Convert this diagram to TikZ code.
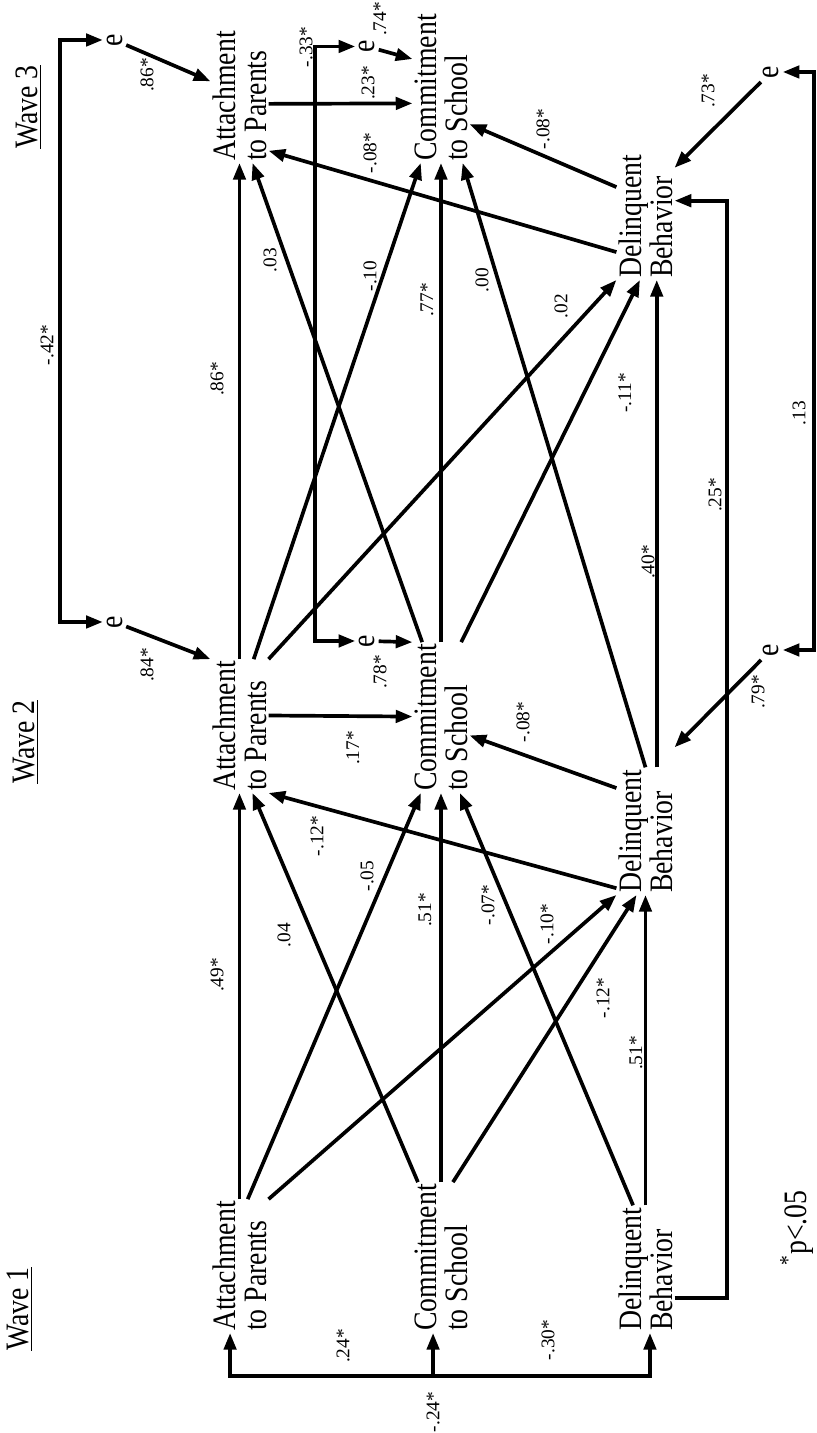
\documentclass[tikz,border=0pt]{standalone}
\usepackage{fontspec}
\setmainfont{Liberation Serif}
\newfontfamily\narrowserif{Liberation Serif}[FakeStretch=0.85]
\usetikzlibrary{arrows.meta,calc}

\begin{document}
\begin{tikzpicture}[
  rotate=90, transform shape,
  >={Triangle[length=9.5pt,width=7pt]},
  var/.style={align=left, inner sep=1pt, font=\narrowserif\fontsize{18.6}{17.6}\selectfont},
  err/.style={inner sep=2pt, font=\narrowserif\fontsize{18.6}{17.6}\selectfont},
  coef/.style={inner sep=0pt, font=\fontsize{11}{12}\selectfont},
  wave/.style={font=\narrowserif\fontsize{18.6}{17.6}\selectfont},
  arrow/.style={->, line width=2.1pt},
  corr/.style={<->, line width=2.1pt}
]
\useasboundingbox (0,0) rectangle (28.66,16.34);

% Wave 1
\node[wave] (w1) at (2.48,15.94) {\underline{Wave 1}};
\node[var, anchor=west] (att1) at (2.0,11.55) {Attachment\\to Parents};
\node[var, anchor=west] (com1) at (2.0,7.52) {Commitment\\to School};
\node[var, anchor=west] (del1) at (2.0,3.43) {Delinquent\\Behavior};

\draw[corr] (att1.172) -- ++(-0.86,0) |- (del1.184);
\draw[arrow] ($(com1.174)+(-0.86,0)$) -- (com1.174);
\node[coef] (r-ac) at (1.74,9.48) {.24*};
\node[coef] (r-cd) at (1.86,5.38) {-.30*};
\node[coef] (r-ad) at (0.42,7.68) {-.24*};
\node[wave] (note) at (4.1,0.41) {\textsuperscript{*}p<.05};


% Wave 2
\node[wave] (w2) at (13.82,15.82) {\underline{Wave 2}};
\node[var, anchor=west] (att2) at (12.8,11.55) {Attachment\\to Parents};
\node[var, anchor=west] (com2) at (12.8,7.52) {Commitment\\to School};
\node[var, anchor=west] (del2) at (10.76,3.43) {Delinquent\\Behavior};

\node[err] (e2a) at (16.22,14.05) {e};
\node[err] (e2c) at (15.84,9.0) {e};
\node[err] (e2d) at (15.66,0.92) {e};

\draw[arrow] (att1) -- (att2);
\draw[arrow] (att1.-7) -- (com2.165);
\draw[arrow] (att1.south east) -- (del2.north west);
\draw[arrow] (com1.17) -- (att2.191);
\draw[arrow] (com1) -- (com2);
\draw[arrow] (com1.-9) -- (del2.172);
\draw[arrow] (del1.11) -- (com2.194);
\draw[arrow] (del1) -- (del2);

\draw[arrow] (att2.-70) -- (com2.88);
\draw[arrow] (del2.153) -- (att2.south west);
\draw[arrow] (del2.34) -- (com2.-122);

\draw[arrow] (e2a) -- (att2.north east);
\draw[arrow] (e2c) -- (com2.north east);
\draw[arrow] (e2d) -- ($(del2.south east)+(0.4,0)$);

\node[coef] (p-aa1) at (9.16,12.0) {.49*};
\node[coef] (p-ca1) at (9.96,10.66) {.04};
\node[coef] (p-ac1) at (11.14,9.0) {-.05};
\node[coef] (p-da2) at (11.94,10.0) {-.12*};
\node[coef] (p-cc1) at (10.46,7.84) {.51*};
\node[coef] (p-dc1) at (10.56,6.58) {-.07*};
\node[coef] (p-ad1) at (10.18,5.4) {-.10*};
\node[coef] (p-cd1) at (8.7,4.28) {-.12*};
\node[coef] (p-dd1) at (7.6,3.62) {.51*};
\node[coef] (p-ac2) at (13.7,9.28) {.17*};
\node[coef] (p-dc2) at (14.22,5.88) {-.08*};
\node[coef] (p-e2a) at (15.36,13.4) {.84*};
\node[coef] (p-e2c) at (15.22,8.74) {.78*};
\node[coef] (p-e2d) at (14.82,1.18) {.79*};


% Wave 3
\node[wave] (w3) at (26.52,15.76) {\underline{Wave 3}};
\node[var, anchor=west] (att3) at (25.4,11.55) {Attachment\\to Parents};
\node[var, anchor=west] (com3) at (25.4,7.52) {Commitment\\to School};
\node[var, anchor=west] (del3) at (23.06,3.43) {Delinquent\\Behavior};

\node[err] (e3a) at (27.86,14.05) {e};
\node[err] (e3c) at (27.73,9.0) {e};
\node[err] (e3d) at (27.22,0.92) {e};

\draw[arrow] (att2) -- (att3);
\draw[arrow] (com2.14) -- (att3.191);
\draw[arrow] (att2.-12) -- (com3.165);
\draw[arrow] (att2.south east) -- (del3.north west);
\draw[arrow] (com2) -- (com3);
\draw[arrow] (com2.-15) -- (del3.175);
\draw[arrow] (del2.east) -- (com3.196);
\draw[arrow] (del2.-10) -- (del3.190);
\draw[arrow] (del1.-135) -- ++(0,-1.05) -| (del3.-62);

\draw[arrow] (att3.-105) -- (com3.119);
\draw[arrow] (del3.141) -- (att3.-152);
\draw[arrow] (del3.45) -- (com3.-142);

\draw[arrow] (e3a) -- (att3.63);
\draw[arrow] (e3c) -- (com3.45);
\draw[arrow] (e3d) -- (del3.-31);

\draw[corr] (e2a.north) -- ++(0,0.85) -| (e3a.north);
\draw[corr] (e2c.north) -- ++(0,0.8) -| (e3c.north);
\draw[corr] (e2d.south) -- ++(0,-0.63) -| (e3d.south);

\node[coef] (p-aa2) at (21.08,12.0) {.86*};
\node[coef] (p-ca2) at (23.46,10.94) {.03};
\node[coef] (p-ac3) at (23.14,8.94) {-.10};
\node[coef] (p-ad2) at (22.54,5.12) {.02};
\node[coef] (p-cc2) at (22.66,7.8) {.77*};
\node[coef] (p-cd2) at (20.8,3.84) {-.11*};
\node[coef] (p-dc3) at (23.06,6.7) {.00};
\node[coef] (p-dd2) at (17.42,3.38) {.40*};
\node[coef] (p-dd3) at (18.76,2.04) {.25*};
\node[coef] (p-ac4) at (27.0,8.98) {.23*};
\node[coef] (p-da3) at (25.6,8.94) {-.08*};
\node[coef] (p-dc4) at (26.08,5.48) {-.08*};
\node[coef] (p-e3a) at (27.16,13.4) {.86*};
\node[coef] (p-e3c) at (28.28,8.74) {.74*};
\node[coef] (p-e3d) at (26.84,2.18) {.73*};
\node[coef] (r-ea) at (21.76,15.4) {-.42*};
\node[coef] (r-ec) at (27.72,10.22) {-.33*};
\node[coef] (r-ed) at (20.4,0.36) {.13};


\end{tikzpicture}
\end{document}
